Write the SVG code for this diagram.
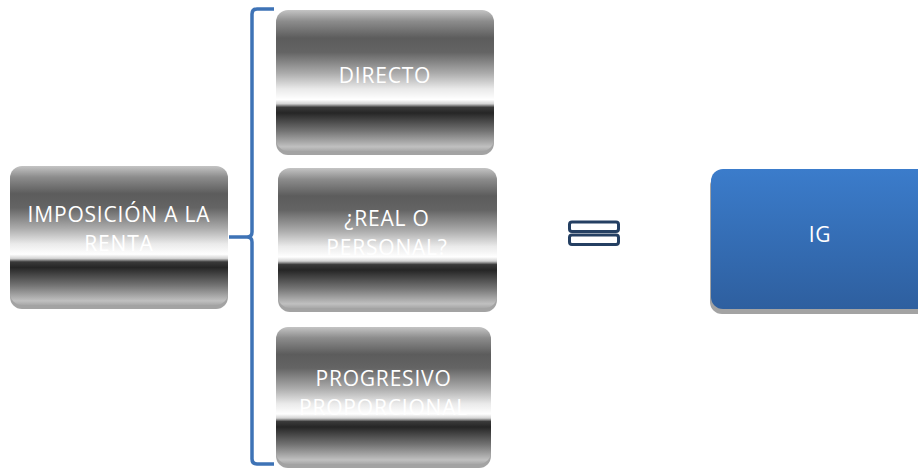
<svg xmlns="http://www.w3.org/2000/svg" width="918" height="471" viewBox="0 0 918 471">
<defs>
<linearGradient id="metal" x1="0" y1="0" x2="0" y2="1">
<stop offset="0" stop-color="#c4c4c4"/>
<stop offset="0.08" stop-color="#8c8c8c"/>
<stop offset="0.2" stop-color="#5c5c5c"/>
<stop offset="0.3" stop-color="#646464"/>
<stop offset="0.45" stop-color="#acacac"/>
<stop offset="0.56" stop-color="#eaeaea"/>
<stop offset="0.635" stop-color="#ffffff"/>
<stop offset="0.665" stop-color="#d4d4d4"/>
<stop offset="0.69" stop-color="#3a3a3a"/>
<stop offset="0.73" stop-color="#262626"/>
<stop offset="0.86" stop-color="#747474"/>
<stop offset="0.97" stop-color="#c0c0c0"/>
<stop offset="1" stop-color="#a8a8a8"/>
</linearGradient>
<linearGradient id="blue" x1="0" y1="0" x2="0" y2="1">
<stop offset="0" stop-color="#3b7ccb"/>
<stop offset="1" stop-color="#2e5f9f"/>
</linearGradient>
</defs>
<style>
.shadow{fill:#a3a3a3}
.box{fill:url(#metal)}
.t{fill:#ffffff;font-family:"Open Sans","Liberation Sans",sans-serif;font-size:21px;letter-spacing:0.8px;text-anchor:middle}
.conn{fill:none;stroke:#3e73b6;stroke-width:3.5;stroke-linejoin:round}
</style>
<g id="connectors">
<path class="conn" d="M274,9 L257,9 Q252,9 252,14 L252,232 Q252,237 247,237 L229,237 M247,237 Q252,237 252,242 L252,459 Q252,464 257,464 L274,464"/>
</g>
<g id="n-imposicion">
<rect class="shadow" x="10" y="170" width="218" height="139" rx="12"/>
<rect class="box" x="10" y="166" width="218" height="139" rx="12"/>
<text class="t" x="119" y="222">IMPOSICIÓN A LA</text>
<text class="t" x="119" y="251">RENTA</text>
</g>
<g id="n-directo">
<rect class="shadow" x="276" y="14" width="218" height="141" rx="12"/>
<rect class="box" x="276" y="10" width="218" height="141" rx="12"/>
<text class="t" x="385" y="83">DIRECTO</text>
</g>
<g id="n-real">
<rect class="shadow" x="278" y="172" width="219" height="140" rx="12"/>
<rect class="box" x="278" y="168" width="219" height="140" rx="12"/>
<text class="t" x="387" y="226">¿REAL O</text>
<text class="t" x="387" y="255">PERSONAL?</text>
</g>
<g id="n-progresivo">
<rect class="shadow" x="276" y="331" width="215" height="137" rx="12"/>
<rect class="box" x="276" y="327" width="215" height="137" rx="12"/>
<text class="t" x="383.5" y="386">PROGRESIVO</text>
<text class="t" x="383.5" y="415">PROPORCIONAL</text>
</g>
<g id="n-equals">
<rect x="569.5" y="222" width="49" height="9.5" rx="2.5" fill="none" stroke="#243f62" stroke-width="3"/>
<rect x="569.5" y="235" width="49" height="9.5" rx="2.5" fill="none" stroke="#243f62" stroke-width="3"/>
</g>
<g id="n-ig">
<rect class="shadow" x="710" y="174" width="220" height="140" rx="12"/>
<rect x="711" y="169" width="220" height="140" rx="12" fill="url(#blue)"/>
<text class="t" x="820" y="242">IG</text>
</g>
</svg>
